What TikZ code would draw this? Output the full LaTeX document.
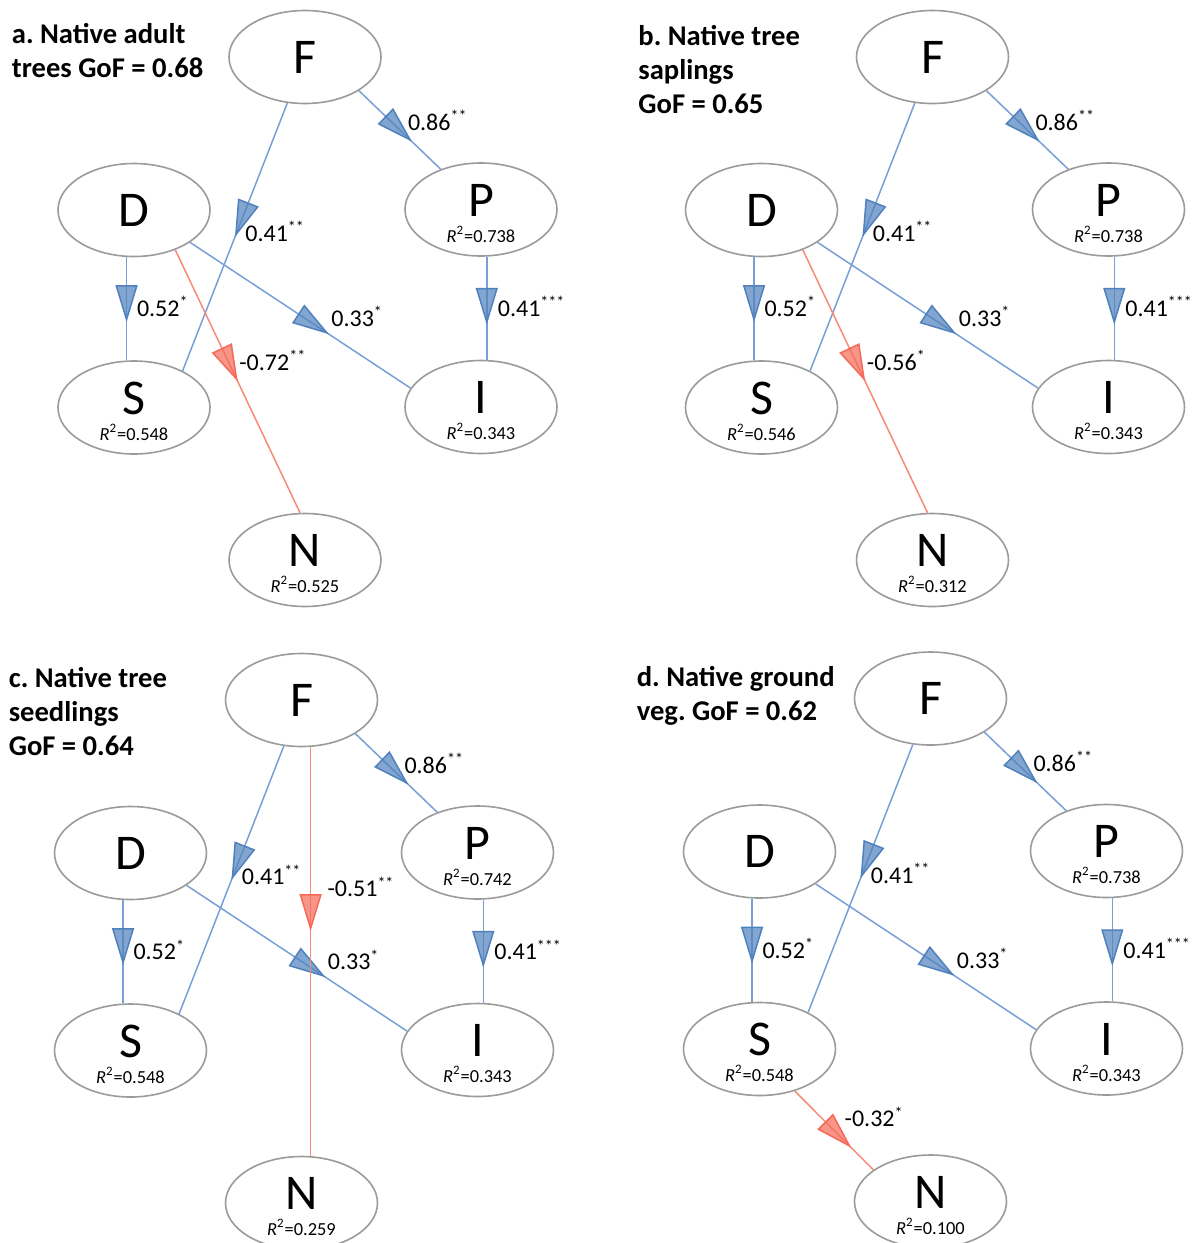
\documentclass[tikz,border=0pt]{standalone}
\usepackage{fontspec}
\setmainfont{Carlito}
\usetikzlibrary{shapes.geometric, arrows.meta, decorations.markings}
\frenchspacing

\definecolor{lineblue}{RGB}{120,160,215}
\definecolor{headblue}{RGB}{79,129,189}
\definecolor{linered}{RGB}{248,138,120}
\definecolor{headred}{RGB}{246,105,88}
\definecolor{rimgray}{RGB}{155,155,155}

\newcommand{\rsqtext}[1]{\textit{R}\textsuperscript{2}=#1}

\begin{document}
\begin{tikzpicture}[
  x=0.5pt, y=-0.5pt,
  var/.style={ellipse, draw=rimgray, line width=0.8pt, minimum width=76pt,
    minimum height=46.5pt, inner sep=0pt, text height=16pt, text depth=0pt,
    font=\fontsize{25}{25}\selectfont},
  rsq/.style={text depth=9.5pt, label={[r2]below:\rsqtext{#1}}},
  r2/.style={shape=rectangle, draw=none, anchor=base, yshift=7.4pt, inner sep=0pt,
    minimum width=0pt, minimum height=0pt, text height=, text depth=,
    font=\fontsize{9.2}{11}\selectfont},
  ttl/.style={anchor=base west, align=left, inner sep=0pt,
    font=\fontsize{14.3}{17}\selectfont\bfseries},
  lbl/.style={anchor=base west, inner sep=0pt, font=\fontsize{12}{14}\selectfont},
  plink/.style={draw=lineblue, line width=0.75pt},
  nlink/.style={draw=linered, line width=0.75pt},
  bhead/.style={postaction={decorate, decoration={markings, mark=at position #1 with
    {\pgfsetfillopacity{0.7}\arrow{Triangle[length=18.5pt, width=11pt, color=headblue]}}}}},
  rhead/.style={postaction={decorate, decoration={markings, mark=at position #1 with
    {\pgfsetfillopacity{0.7}\arrow{Triangle[length=18.5pt, width=11pt, color=headred]}}}}}
]
\fill[white] (0,0) rectangle (1197,1243);
\useasboundingbox (0,0) rectangle (1197,1243);

% a. adult trees
\node[ttl] (aTitle) at (11.5,77.3) {a. Native adult\\trees GoF = 0.68};
\node[var] (aF) at (305,57) {F};
\node[var] (aD) at (134,210) {D};
\node[var, rsq=0.738] (aP) at (481,209.5) {P};
\node[var, rsq=0.548] (aS) at (134,407.5) {S};
\node[var, rsq=0.343] (aI) at (481,407) {I};
\node[var, rsq=0.525] (aN) at (305,560) {N};
\draw[plink, bhead=.65] (aF.-32) -- (aP.135);
\draw[plink, bhead=.5] (aF.-111) -- (aS.37);
\draw[plink, bhead=.63] (aD.-99) -- (aS.99);
\draw[plink, bhead=.63] (aD.-30) -- (aI.165);
\draw[nlink, rhead=.5] (aD.-44) -- (aN.96);
\draw[plink, bhead=.66] (aP.-83) -- (aI.83);
\node[lbl] (aFP) at (407.6,130) {0.86\textsuperscript{**}};
\node[lbl] (aFS) at (245,241.7) {0.41\textsuperscript{**}};
\node[lbl] (aDS) at (136.6,316.7) {0.52\textsuperscript{*}};
\node[lbl] (aDI) at (331,326.7) {0.33\textsuperscript{*}};
\node[lbl] (aDN) at (239,370) {-0.72\textsuperscript{**}};
\node[lbl] (aPI) at (497.5,316.7) {0.41\textsuperscript{***}};

% b. saplings
\begin{scope}[shift={(627.5,0)}]
\node[ttl] (bTitle) at (10.5,113) {b. Native tree\\saplings\\GoF = 0.65};
\node[var] (bF) at (305,57) {F};
\node[var] (bD) at (134,210) {D};
\node[var, rsq=0.738] (bP) at (481,209.5) {P};
\node[var, rsq=0.546] (bS) at (134,407.5) {S};
\node[var, rsq=0.343] (bI) at (481,407) {I};
\node[var, rsq=0.312] (bN) at (305,560) {N};
\draw[plink, bhead=.65] (bF.-32) -- (bP.135);
\draw[plink, bhead=.5] (bF.-111) -- (bS.37);
\draw[plink, bhead=.63] (bD.-99) -- (bS.99);
\draw[plink, bhead=.63] (bD.-30) -- (bI.165);
\draw[nlink, rhead=.5] (bD.-44) -- (bN.96);
\draw[plink, bhead=.66] (bP.-83) -- (bI.83);
\node[lbl] (bFP) at (407.6,130) {0.86\textsuperscript{**}};
\node[lbl] (bFS) at (245,241.7) {0.41\textsuperscript{**}};
\node[lbl] (bDS) at (136.6,316.7) {0.52\textsuperscript{*}};
\node[lbl] (bDI) at (331,326.7) {0.33\textsuperscript{*}};
\node[lbl] (bDN) at (239,370) {-0.56\textsuperscript{*}};
\node[lbl] (bPI) at (497.5,316.7) {0.41\textsuperscript{***}};
\end{scope}

% c. seedlings
\begin{scope}[shift={(-3.5,643)}]
\node[ttl] (cTitle) at (11.9,112) {c. Native tree\\seedlings\\GoF = 0.64};
\node[var] (cF) at (305,57) {F};
\node[var] (cD) at (134,210) {D};
\node[var, rsq=0.742] (cP) at (481,209.5) {P};
\node[var, rsq=0.548] (cS) at (134,407.5) {S};
\node[var, rsq=0.343] (cI) at (481,407) {I};
\node[var, rsq=0.259] (cN) at (305,560) {N};
\draw[plink, bhead=.65] (cF.-32) -- (cP.135);
\draw[plink, bhead=.5] (cF.-111) -- (cS.37);
\draw[plink, bhead=.63] (cD.-99) -- (cS.99);
\draw[plink, bhead=.63] (cD.-30) -- (cI.165);
\draw[nlink, rhead=.45] (cF.-79) -- (cN.79);
\draw[plink, bhead=.66] (cP.-83) -- (cI.83);
\node[lbl] (cFP) at (407.6,130) {0.86\textsuperscript{**}};
\node[lbl] (cFS) at (245,241.7) {0.41\textsuperscript{**}};
\node[lbl] (cDS) at (136.6,316.7) {0.52\textsuperscript{*}};
\node[lbl] (cDI) at (331,326.7) {0.33\textsuperscript{*}};
\node[lbl] (cFN) at (330.7,253.7) {-0.51\textsuperscript{**}};
\node[lbl] (cPI) at (497.5,316.7) {0.41\textsuperscript{***}};
\end{scope}

% d. ground vegetation
\begin{scope}[shift={(625.5,641.5)}]
\node[ttl] (dTitle) at (10.9,78.5) {d. Native ground\\veg. GoF = 0.62};
\node[var] (dF) at (305,57) {F};
\node[var] (dD) at (134,210) {D};
\node[var, rsq=0.738] (dP) at (481,209.5) {P};
\node[var, rsq=0.548] (dS) at (134,407.5) {S};
\node[var, rsq=0.343] (dI) at (481,407) {I};
\node[var, rsq=0.100] (dN) at (305,560) {N};
\draw[plink, bhead=.65] (dF.-32) -- (dP.135);
\draw[plink, bhead=.5] (dF.-111) -- (dS.37);
\draw[plink, bhead=.63] (dD.-99) -- (dS.99);
\draw[plink, bhead=.63] (dD.-30) -- (dI.165);
\draw[nlink, rhead=.72] (dS.-50) -- (dN.151);
\draw[plink, bhead=.66] (dP.-83) -- (dI.83);
\node[lbl] (dFP) at (407.6,130) {0.86\textsuperscript{**}};
\node[lbl] (dFS) at (245,241.7) {0.41\textsuperscript{**}};
\node[lbl] (dDS) at (136.6,316.7) {0.52\textsuperscript{*}};
\node[lbl] (dDI) at (331,326.7) {0.33\textsuperscript{*}};
\node[lbl] (dSN) at (218.8,485.2) {-0.32\textsuperscript{*}};
\node[lbl] (dPI) at (497.5,316.7) {0.41\textsuperscript{***}};
\end{scope}
\end{tikzpicture}
\end{document}
